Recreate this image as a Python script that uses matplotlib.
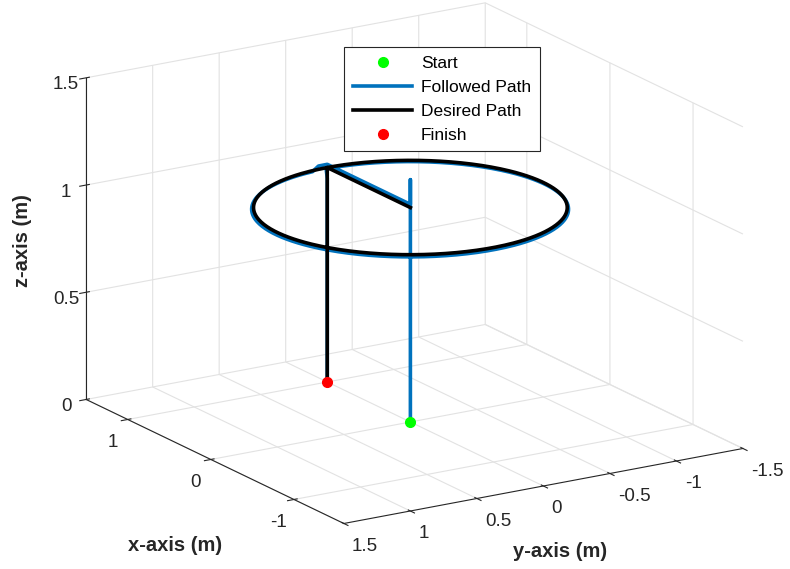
import numpy as np
import matplotlib
matplotlib.use('Agg')
import matplotlib.pyplot as plt

# desired path: hover point, circle of radius 1 at z = 1, then land
circle_center = [0.0, 0.0, 1.0]
circle_radius = 1.0
start_point = [0.0, 0.0, 0.0]
finish_point = [1.0, 0.0, 0.0]

# followed path waypoints (takeoff with overshoot, transit to circle)
takeoff_x = [0.0, 0.0, 0.0, 0.0, 0.0]
takeoff_y = [0.0, 0.0, 0.0, 0.0, 0.0]
takeoff_z = [0.0, 0.6, 1.13, 1.05, 1.015]
transit_x = [0.0, 0.5, 1.0, 1.01]
transit_y = [0.0, 0.0, 0.0, 0.06]
transit_z = [1.015, 1.015, 1.015, 1.012]
followed_radius = 1.01
followed_shift = [-0.006, 0.006, -0.006]

xticks = [-1, 0, 1]
yticks = [-1.5, -1, -0.5, 0, 0.5, 1, 1.5]
zticks = [0, 0.5, 1, 1.5]

blue = '#0072BD'

th = np.linspace(0, 2 * np.pi, 361)
des_x = circle_center[0] + circle_radius * np.cos(th)
des_y = circle_center[1] + circle_radius * np.sin(th)
des_z = np.full_like(th, circle_center[2])
des_x = np.concatenate([[circle_center[0]], des_x, [finish_point[0]]])
des_y = np.concatenate([[circle_center[1]], des_y, [finish_point[1]]])
des_z = np.concatenate([[circle_center[2]], des_z, [finish_point[2]]])

fc_x = circle_center[0] + followed_shift[0] + followed_radius * np.cos(th)
fc_y = circle_center[1] + followed_shift[1] + followed_radius * np.sin(th)
fc_z = np.full_like(th, circle_center[2] + followed_shift[2])
fol_x = np.concatenate([takeoff_x, transit_x, fc_x[6:], [1.0, finish_point[0]]])
fol_y = np.concatenate([takeoff_y, transit_y, fc_y[6:], [0.0, finish_point[1]]])
fol_z = np.concatenate([takeoff_z, transit_z, fc_z[6:], [0.95, finish_point[2]]])

plt.rcParams['font.family'] = ['Liberation Sans', 'DejaVu Sans']
fig = plt.figure(figsize=(7.9, 5.69), dpi=100)
ax = fig.add_axes([0.015, 0.024, 1, 1], projection='3d')
ax.set_proj_type('ortho')
ax.view_init(elev=17.5, azim=148)
ax.set_box_aspect((3.1, 3.0, 2.15), zoom=1.29)

h1, = ax.plot([start_point[0]], [start_point[1]], [start_point[2]], 'o',
              color='#00FF00', markersize=7, label='Start', zorder=5)
h2, = ax.plot(fol_x, fol_y, fol_z, color=blue, lw=2.6, label='Followed Path')
h3, = ax.plot(des_x, des_y, des_z, color='black', lw=2.6, label='Desired Path')
h4, = ax.plot([finish_point[0]], [finish_point[1]], [finish_point[2]], 'o',
              color='red', markersize=7, label='Finish', zorder=5)

ax.set_xlim(-1.6, 1.5)
ax.set_ylim(-1.5, 1.5)
ax.set_zlim(0, 1.5)
ax.set_xticks(xticks)
ax.set_yticks(yticks)
ax.set_zticks(zticks)
ax.set_xticklabels([str(v) for v in xticks])
ax.set_yticklabels(['-1.5', '-1', '-0.5', '0', '0.5', '1', '1.5'], ha='left')
ax.set_zticklabels(['0', '0.5', '1', '1.5'])
ax.tick_params(labelsize=13.5, colors='#262626')
ax.tick_params(axis='x', pad=0)
ax.tick_params(axis='y', pad=-1.2)
ax.tick_params(axis='z', pad=-1.5)
ax.zaxis.set_ticks_position('upper')

for axis in (ax.xaxis, ax.yaxis, ax.zaxis):
    axis.set_pane_color((1, 1, 1, 0))
    axis.pane.set_edgecolor((1, 1, 1, 0))
    axis._axinfo['grid']['color'] = '#E2E2E2'
    axis._axinfo['grid']['linewidth'] = 0.8
    axis.line.set_color('#262626')
    axis.line.set_linewidth(0.8)

fig.text(0.221, 0.042, 'x-axis (m)', fontsize=14.5, fontweight='bold',
         ha='center', va='center', color='#262626')
fig.text(0.709, 0.030, 'y-axis (m)', fontsize=14.5, fontweight='bold',
         ha='center', va='center', color='#262626')
fig.text(0.028, 0.578, 'z-axis (m)', fontsize=14.5, fontweight='bold',
         ha='center', va='center', rotation=90, color='#262626')

leg = fig.legend(handles=[h1, h2, h3, h4], loc='upper center',
                 bbox_to_anchor=(0.5595, 0.932), fontsize=12.5, frameon=True,
                 fancybox=False, edgecolor='#262626', framealpha=1,
                 handlelength=3.4, handletextpad=0.5, borderpad=0.5,
                 labelspacing=0.5)
leg.get_frame().set_linewidth(0.8)

fig.savefig('out.png', dpi=100)
